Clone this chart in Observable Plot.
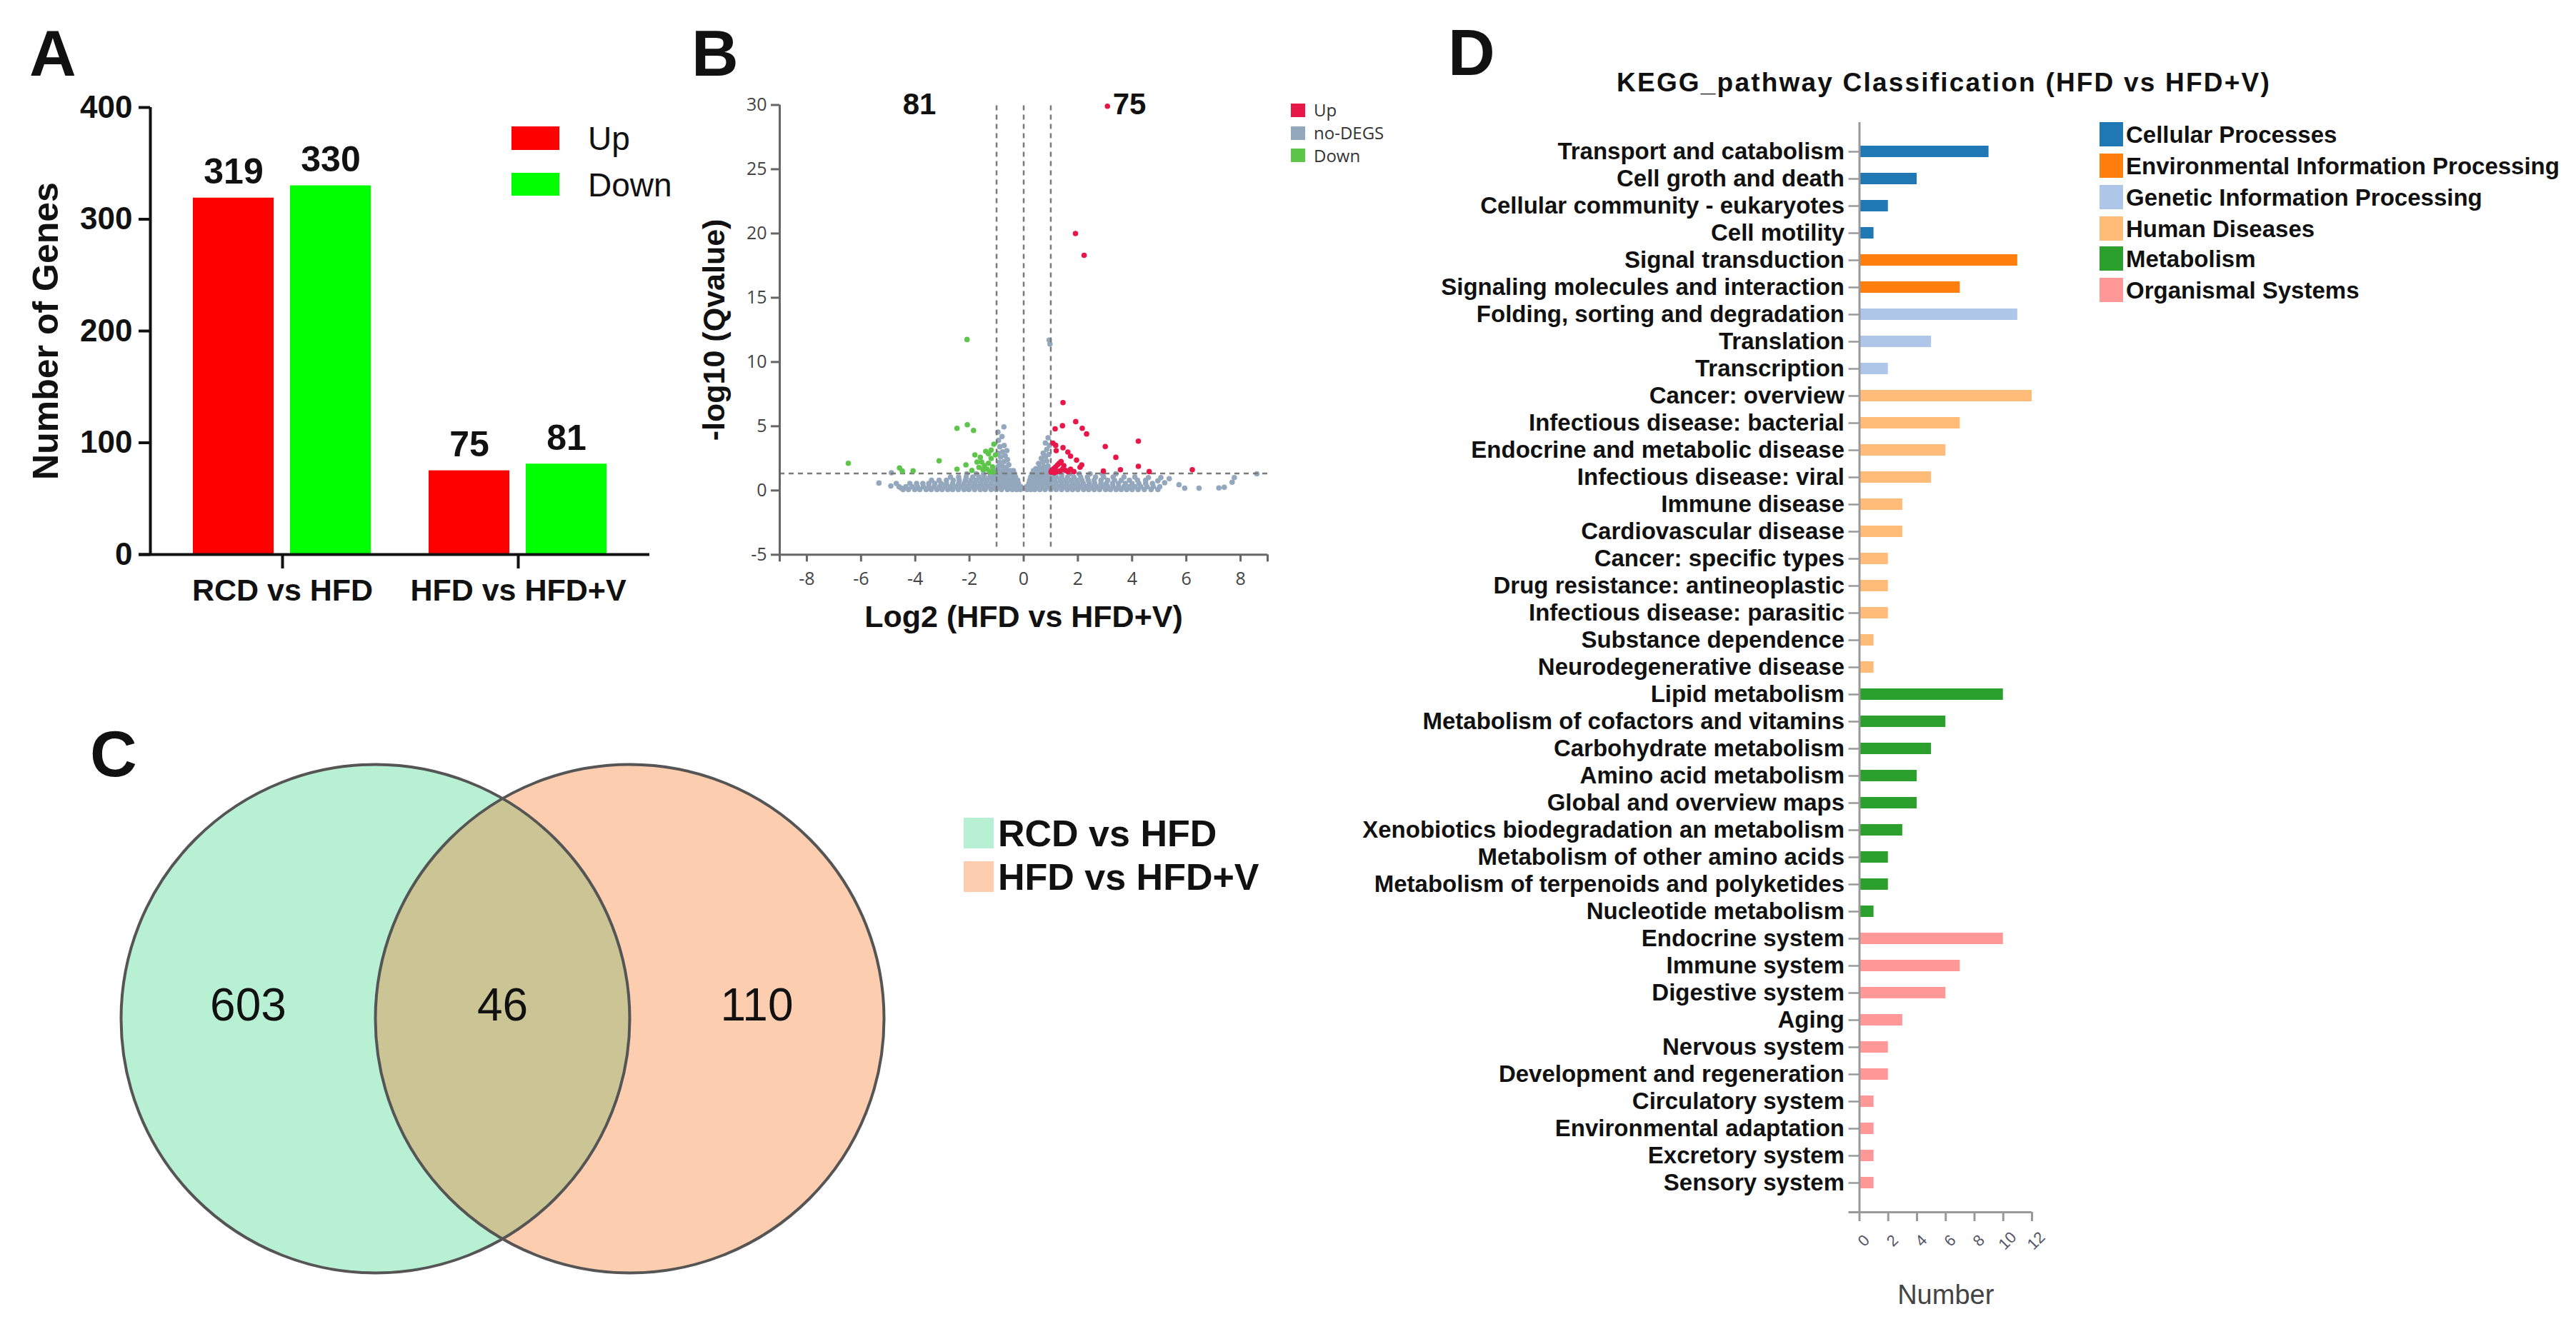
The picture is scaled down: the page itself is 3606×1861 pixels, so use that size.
<!DOCTYPE html>
<html><head><meta charset="utf-8">
<script src="https://cdn.jsdelivr.net/npm/d3@7"></script>
<script src="https://cdn.jsdelivr.net/npm/@observablehq/plot@0.6"></script>
<style>
html,body{margin:0;padding:0;background:#fff;}
#page{position:relative;width:3606px;height:1861px;overflow:hidden;background:#fff;font-family:"Liberation Sans",Arial,sans-serif;color:#111;}
</style></head><body><div id="page"></div>
<script>
// ---------- DATA ----------
// Panel A
const comparisons = ["RCD vs HFD", "HFD vs HFD+V"];
const directions = ["Up", "Down"];
const upCounts = [319, 75];
const downCounts = [330, 81];
const countTicks = [0, 100, 200, 300, 400];

// Panel B (volcano)
const degClasses = ["Up", "no-DEGS", "Down"];
const upPoints = [[3.09,29.9],[1.91,20.0],[2.23,18.3],[1.45,6.84],[1.92,5.36],[1.43,5.04],[1.16,4.8],[2.16,4.84],[2.32,4.4],[4.23,3.84],[1.08,3.69],[1.18,3.51],[1.45,3.33],[1.2,3.1],[1.63,2.99],[1.73,2.67],[3.01,3.42],[3.4,2.58],[1.95,2.36],[2.14,1.99],[2.08,1.81],[4.23,1.88],[3.57,1.62],[2.94,1.51],[4.63,1.47],[6.22,1.62],[1.38,2.25],[1.31,2.12],[1.25,1.99],[1.18,1.84],[1.11,1.69],[1.03,1.56],[1.01,1.43],[1.48,1.93],[1.43,1.66],[1.55,1.56],[1.33,1.51],[1.21,1.47],[1.13,1.38],[1.73,1.66],[1.85,1.47],[1.63,1.47]];
const downPoints = [[-2.09,11.75],[-6.47,2.12],[-3.12,2.31],[-2.46,4.84],[-2.08,5.12],[-1.85,4.67],[-1.1,3.6],[-4.58,1.75],[-4.48,1.51],[-4.08,1.53],[-2.46,1.66],[-2.13,1.99],[-1.91,1.56],[-1.8,2.77],[-1.6,2.58],[-1.4,3.05],[-1.3,2.86],[-1.55,2.21],[-1.45,1.93],[-1.3,2.12],[-1.2,2.49],[-1.15,1.84],[-1.35,1.66],[-1.5,1.62],[-1.25,1.47],[-1.12,1.43],[-1.65,1.8],[-1.72,2.21],[-1.2,3.14],[-1.04,2.77]];
const grayRowY = [0.08, 0.3, 0.55, 0.8, 1.05, 1.3, 1.55];
const grayRowX = [
  [-4.45,-4.25,-4.02,-3.83,-3.6,-3.41,-3.2,-3.01,-2.8,-2.62,-2.41,-2.2,-2.02,-1.81,-1.6,-1.42,-1.2,-1.01,-0.82,-0.6,-0.42,-0.26,-0.12,0.12,0.26,0.41,0.6,0.79,1.0,1.2,1.4,1.61,1.8,2.0,2.21,2.4,2.6,2.8,3.02,3.2,3.41,3.6,3.8,4.0,4.22,4.45,4.7,4.95],
  [-4.6,-4.35,-4.12,-3.92,-3.7,-3.5,-3.3,-3.1,-2.9,-2.7,-2.5,-2.3,-2.1,-1.9,-1.7,-1.5,-1.3,-1.1,-0.91,-0.72,-0.54,-0.38,-0.22,-0.1,0.1,0.2,0.34,0.5,0.68,0.88,1.1,1.3,1.5,1.7,1.9,2.1,2.3,2.5,2.7,2.9,3.1,3.3,3.5,3.7,3.9,4.1,4.32,4.55,4.78,5.02],
  [-4.2,-3.95,-3.72,-3.5,-3.28,-3.05,-2.85,-2.62,-2.4,-2.2,-2.0,-1.8,-1.6,-1.4,-1.2,-1.0,-0.82,-0.65,-0.48,-0.33,-0.19,0.19,0.33,0.48,0.65,0.82,1.0,1.2,1.4,1.6,1.8,2.0,2.2,2.42,2.62,2.85,3.05,3.28,3.5,3.75,4.0,4.25,4.5,4.75],
  [-3.4,-3.12,-2.85,-2.6,-2.38,-2.15,-1.95,-1.75,-1.55,-1.35,-1.15,-0.97,-0.8,-0.64,-0.48,-0.34,-0.22,0.22,0.36,0.5,0.66,0.82,0.98,1.15,1.35,1.55,1.75,1.95,2.15,2.38,2.6,2.85,3.1,3.35,3.6,3.9,4.2,4.5],
  [-2.7,-2.4,-2.12,-1.88,-1.65,-1.45,-1.25,-1.07,-0.9,-0.74,-0.58,-0.44,-0.3,0.26,0.4,0.55,0.7,0.86,1.02,1.2,1.4,1.62,1.85,2.1,2.35,2.65,2.95,3.3,3.7,4.1],
  [-2.1,-1.75,-1.48,-1.22,-1.05,-0.9,-0.75,-0.6,-0.46,-0.33,0.3,0.44,0.58,0.72,0.86,1.0,1.18,1.4,1.7,2.05,2.45,2.9,3.4],
  [-1.1,-0.93,-0.78,-0.63,-0.5,-0.38,0.36,0.5,0.64,0.78,0.92]
];
const grayExtra = [[-0.95,1.85],[-0.8,1.9],[-0.65,1.8],[-0.55,2.0],[-0.9,2.2],[-0.72,2.25],[-0.6,2.4],[-0.85,2.6],[-0.68,2.7],[-0.95,2.9],[-0.78,3.0],[-0.62,3.1],[-0.88,3.4],[-0.72,3.5],[-0.93,3.9],[-0.8,4.2],[-0.95,4.55],[-0.73,4.95],
  [0.6,1.8],[0.45,1.7],[0.75,1.85],[0.9,1.9],[0.55,2.1],[0.7,2.2],[0.85,2.3],[0.65,2.5],[0.8,2.6],[0.92,2.8],[0.72,2.9],[0.85,3.2],[0.95,3.5],[0.8,3.7],[0.9,4.1],[0.94,11.7],[0.97,11.4],
  [-5.34,0.58],[-4.88,1.38],[-4.9,0.35],[-4.7,0.55],[-4.53,0.2],
  [5.06,1.0],[5.37,0.92],[5.2,0.6],[5.73,0.45],[5.94,0.18],[6.47,0.18],[7.2,0.2],[7.4,0.25],[7.69,0.64],[7.77,1.0],[8.6,1.3],[4.95,0.75],[4.6,1.0]];
const qThreshold = 1.33;
const dashedX = [-1, 0, 1];
const volcanoXTicks = [-8, -6, -4, -2, 0, 2, 4, 6, 8];
const volcanoYTicks = [-5, 0, 5, 10, 15, 20, 25, 30];
const volcanoDown = 81, volcanoUp = 75;

// Panel C (Venn)
const vennSets = ["RCD vs HFD", "HFD vs HFD+V"];
const vennCounts = [603, 46, 110]; // only first, both, only second

// Panel D (KEGG)
const keggPathways = ["Transport and catabolism","Cell groth and death","Cellular community - eukaryotes","Cell motility",
  "Signal transduction","Signaling molecules and interaction",
  "Folding, sorting and degradation","Translation","Transcription",
  "Cancer: overview","Infectious disease: bacterial","Endocrine and metabolic disease","Infectious disease: viral","Immune disease","Cardiovascular disease","Cancer: specific types","Drug resistance: antineoplastic","Infectious disease: parasitic","Substance dependence","Neurodegenerative disease",
  "Lipid metabolism","Metabolism of cofactors and vitamins","Carbohydrate metabolism","Amino acid metabolism","Global and overview maps","Xenobiotics biodegradation an metabolism","Metabolism of other amino acids","Metabolism of terpenoids and polyketides","Nucleotide metabolism",
  "Endocrine system","Immune system","Digestive system","Aging","Nervous system","Development and regeneration","Circulatory system","Environmental adaptation","Excretory system","Sensory system"];
const keggCounts = [9,4,2,1, 11,7, 11,5,2, 12,7,6,5,3,3,2,2,2,1,1, 10,6,5,4,4,3,2,2,1, 10,7,6,3,2,2,1,1,1,1];
const keggGroups = ["Cellular Processes","Environmental Information Processing","Genetic Information Processing","Human Diseases","Metabolism","Organismal Systems"];
const keggGroupSizes = [4, 2, 3, 11, 9, 10];
const keggTicks = [0, 2, 4, 6, 8, 10, 12];

// ---------- HELPERS ----------
const page = document.getElementById("page");
const FONT = "Liberation Sans, Arial, sans-serif";
function place(node, left, top) {
  node.style.position = "absolute"; node.style.left = left + "px"; node.style.top = top + "px";
  page.appendChild(node); return node;
}
function label(text, left, baseline, fs, weight, extra) {
  const d = document.createElement("div");
  d.textContent = text;
  d.style.cssText = `position:absolute;left:${left}px;top:${baseline - 0.8465 * fs}px;font-size:${fs}px;font-weight:${weight};line-height:1;white-space:nowrap;color:#111;font-family:${FONT};${extra || ""}`;
  page.appendChild(d); return d;
}
function swatch(left, top, w, h, color) {
  const d = document.createElement("div");
  d.style.cssText = `position:absolute;left:${left}px;top:${top}px;width:${w}px;height:${h}px;background:${color};`;
  page.appendChild(d);
}
const baseStyle = {fontFamily: FONT, background: "transparent", overflow: "visible", color: "#111"};

// ---------- PANEL A ----------
const barRows = comparisons.flatMap((c, i) => [
  {comparison: c, direction: "Up", n: upCounts[i]},
  {comparison: c, direction: "Down", n: downCounts[i]}
]);
const aDims = {width: 960, height: 900, marginLeft: 210, marginRight: 51, marginTop: 150, marginBottom: 124};
const aBars = Plot.plot({
  ...aDims, style: baseStyle,
  fx: {domain: comparisons, paddingInner: 0.2, paddingOuter: 0.159, label: null},
  x: {domain: directions, paddingInner: 0.169, paddingOuter: 0.055, axis: null},
  y: {domain: [0, 400], axis: null},
  color: {domain: directions, range: ["#ff0000", "#00ff00"]},
  marks: [
    Plot.barY(barRows, {fx: "comparison", x: "direction", y: "n", fill: "direction"}),
    Plot.text(barRows, {fx: "comparison", x: "direction", y: "n", text: d => String(d.n), dy: -36, lineAnchor: "middle", fontSize: 50, fontWeight: "bold", fill: "#111"}),
    Plot.axisFx({anchor: "bottom", tickSize: 20, tickPadding: 14, fontSize: 43, fontWeight: "bold", strokeWidth: 4, stroke: "#111", fill: "#111", label: null})
  ]
});
place(aBars, 0, 0);
const aAxes = Plot.plot({
  ...aDims, style: baseStyle,
  x: {domain: [0, 1], axis: null},
  y: {domain: [0, 400], axis: null},
  marks: [
    Plot.ruleX([0], {y1: 0, y2: 400, stroke: "#111", strokeWidth: 4}),
    Plot.ruleY([0], {x1: 0, x2: 1, insetLeft: -16, stroke: "#111", strokeWidth: 4}),
    Plot.axisY({ticks: countTicks, tickSize: 16, tickPadding: 9, fontSize: 44, fontWeight: "bold", strokeWidth: 4, stroke: "#111", fill: "#111", label: null}),
    Plot.text(["Number of Genes"], {text: d => d, frameAnchor: "left", textAnchor: "middle", lineAnchor: "middle", dx: -146, rotate: -90, fontSize: 50, fontWeight: "bold", fill: "#111"})
  ]
});
place(aAxes, 0, 0);
swatch(716, 177, 67, 33, "#ff0000");
swatch(716, 242, 67, 32, "#00ff00");
label("Up", 823, 209.5, 46, "normal");
label("Down", 823, 274.5, 46, "normal");

// ---------- PANEL B ----------
const grayPts = grayRowY.flatMap((y, i) => grayRowX[i].map(x => ({x, y, cls: "no-DEGS"})))
  .concat(grayExtra.map(([x, y]) => ({x, y, cls: "no-DEGS"})));
const upPts = upPoints.map(([x, y]) => ({x, y, cls: "Up"}));
const downPts = downPoints.map(([x, y]) => ({x, y, cls: "Down"}));
const bFont = "Open Sans, Liberation Sans, sans-serif";
const volcano = Plot.plot({
  width: 900, height: 950, marginLeft: 141, marginRight: 76, marginTop: 146.5, marginBottom: 173.7,
  style: baseStyle,
  x: {domain: [-9, 9], axis: null},
  y: {domain: [-5, 30], axis: null},
  color: {domain: degClasses, range: ["#e8174a", "#93a7bd", "#5ec54b"]},
  marks: [
    Plot.dot(grayPts, {x: "x", y: "y", fill: "cls", r: 3.8}),
    Plot.ruleY([qThreshold], {x1: -9, x2: 9.05, stroke: "#7a7a7a", strokeWidth: 2.5, strokeDasharray: "7,6"}),
    Plot.ruleX(dashedX, {y1: -4.4, y2: 30.2, stroke: "#7a7a7a", strokeWidth: 2.5, strokeDasharray: "7,6"}),
    Plot.dot(downPts, {x: "x", y: "y", fill: "cls", r: 3.8}),
    Plot.dot(upPts, {x: "x", y: "y", fill: "cls", r: 3.8}),
    Plot.ruleX([-9], {y1: -5, y2: 30, stroke: "#666", strokeWidth: 3}),
    Plot.ruleY([-5], {x1: -9, x2: 9, stroke: "#666", strokeWidth: 3}),
    Plot.axisY({ticks: volcanoYTicks, tickFormat: d => String(d), tickSize: 12, tickPadding: 6, fontSize: 25, fontFamily: bFont, fill: "#444", stroke: "#666", strokeWidth: 3, label: null}),
    Plot.axisX({ticks: volcanoXTicks, tickFormat: d => String(d), tickSize: 10, tickPadding: 14, fontSize: 25, fontFamily: bFont, fill: "#444", stroke: "#666", strokeWidth: 3, label: null}),
    Plot.axisX({ticks: [-9, 9], tickFormat: () => "", tickSize: 10, stroke: "#666", strokeWidth: 3, label: null}),
    Plot.text(["-log10 (Qvalue)"], {text: d => d, frameAnchor: "left", textAnchor: "middle", lineAnchor: "middle", dx: -91, rotate: -90, fontSize: 43, fontWeight: "bold", fill: "#111"}),
    Plot.text(["Log2 (HFD vs HFD+V)"], {text: d => d, frameAnchor: "bottom", textAnchor: "middle", lineAnchor: "middle", dy: 87, fontSize: 43, fontWeight: "bold", fill: "#111"}),
    Plot.text([String(volcanoDown)], {text: d => d, frameAnchor: "top", textAnchor: "middle", lineAnchor: "middle", dx: -146, fontSize: 42, fontWeight: "bold", fill: "#111"}),
    Plot.text([String(volcanoUp)], {text: d => d, frameAnchor: "top", textAnchor: "middle", lineAnchor: "middle", dx: 148, fontSize: 42, fontWeight: "bold", fill: "#111"})
  ]
});
place(volcano, 950, 0);
swatch(1807, 145, 20, 19, "#e8174a");
swatch(1807, 177, 20, 19, "#93a7bd");
swatch(1807, 208, 20, 19, "#5ec54b");
label("Up", 1839, 162.6, 24, "normal", "color:#333;font-family:Open Sans,sans-serif;");
label("no-DEGS", 1839, 194.6, 24, "normal", "color:#333;font-family:Open Sans,sans-serif;");
label("Down", 1839, 226, 24, "normal", "color:#333;font-family:Open Sans,sans-serif;");

// ---------- PANEL C ----------
const vennCircles = vennSets.map((s, i) => ({set: s, cx: i === 0 ? -0.5 : 0.5}));
const vennRegions = vennCounts.map((n, i) => ({n, pos: i - 1}));
const vennR = (1059 - 347) / 2;
const venn = Plot.plot({
  width: 1900, height: 911, margin: 0, style: baseStyle,
  x: {domain: [-1, 1], range: [347, 1059], axis: null},
  y: {domain: [-1, 1], range: [832, 120], axis: null},
  marks: [
    Plot.dot([vennCircles[0]], {x: "cx", y: () => 0, r: vennR, fill: "#b8f0d4"}),
    Plot.dot([vennCircles[1]], {x: "cx", y: () => 0, r: vennR, fill: "#fdcdb0"}),
    Plot.dot([vennCircles[0]], {x: "cx", y: () => 0, r: vennR, fill: "#cbc495"}),
    Plot.dot(vennCircles, {x: "cx", y: () => 0, r: vennR, fill: "none", stroke: "#555", strokeWidth: 4}),
    Plot.text(vennRegions, {x: "pos", y: () => 0.05, text: d => String(d.n), fontSize: 64, fill: "#111"})
  ]
});
(function clipOverlap() {
  const ns = "http://www.w3.org/2000/svg";
  const groups = venn.querySelectorAll('g[aria-label="dot"]');
  const ov = groups[2];
  if (!ov) return;
  const defs = document.createElementNS(ns, "defs");
  const cp = document.createElementNS(ns, "clipPath");
  cp.setAttribute("id", "vennclip");
  const c = document.createElementNS(ns, "circle");
  c.setAttribute("cx", venn.scale("x").apply(vennCircles[1].cx));
  c.setAttribute("cy", venn.scale("y").apply(0));
  c.setAttribute("r", vennR);
  cp.appendChild(c);
  defs.appendChild(cp);
  venn.insertBefore(defs, venn.firstChild);
  ov.setAttribute("clip-path", "url(#vennclip)");
})();
place(venn, 0, 950);
swatch(1349, 1145, 42, 43, "#b8f0d4");
swatch(1349, 1206, 42, 43, "#fdcdb0");
label(vennSets[0], 1397, 1185, 52, "bold");
label(vennSets[1], 1397, 1246, 52, "bold");

// ---------- PANEL D ----------
const groupOf = keggGroupSizes.flatMap((n, g) => Array(n).fill(keggGroups[g]));
const keggRows = keggPathways.map((p, i) => ({pathway: p, count: keggCounts[i], group: groupOf[i]}));
const keggColors = ["#1f77b4", "#ff7f0e", "#aec7e8", "#ffbb78", "#2ca02c", "#ff9896"];
const dDims = {width: 1756, height: 1711, marginLeft: 752.5, marginRight: 762, marginTop: 21, marginBottom: 164};
const kegg = Plot.plot({
  ...dDims, style: baseStyle,
  x: {domain: [0, 12], axis: null},
  y: {domain: keggPathways, paddingInner: 0.584, paddingOuter: 0.612, axis: null},
  color: {domain: keggGroups, range: keggColors},
  marks: [
    Plot.barX(keggRows, {y: "pathway", x: "count", fill: "group"}),
    Plot.axisY({tickSize: 15, tickPadding: 6, fontSize: 33, fontWeight: "bold", fill: "#111", stroke: "#999", strokeWidth: 2.5, label: null}),
    Plot.ruleX([0], {stroke: "#999", strokeWidth: 3})
  ]
});
place(kegg, 1850, 150);
const keggAxes = Plot.plot({
  ...dDims, style: baseStyle,
  x: {domain: [0, 12], axis: null},
  y: {domain: [0, 1], axis: null},
  marks: [
    Plot.ruleY([0], {insetLeft: -15, stroke: "#999", strokeWidth: 3}),
    Plot.axisX({ticks: keggTicks, tickFormat: () => "", tickSize: 13, stroke: "#999", strokeWidth: 3, label: null}),
    Plot.text(keggTicks, {x: d => d, text: d => String(d), frameAnchor: "bottom", textAnchor: "middle", lineAnchor: "middle", dy: 40, dx: 6, rotate: -45, fontSize: 22, fill: "#556"}),
    Plot.text(["Number"], {text: d => d, frameAnchor: "bottom", textAnchor: "middle", lineAnchor: "middle", dy: 116, fontSize: 38, fill: "#444"})
  ]
});
place(keggAxes, 1850, 150);
label("KEGG_pathway Classification (HFD vs HFD+V)", 2721, 128, 37, "bold", "transform:translateX(-50%);letter-spacing:2.2px;");
const legTops = [171, 215, 259, 303, 345, 389];
keggGroups.forEach((g, i) => {
  swatch(2939, legTops[i], 33, 34, keggColors[i]);
  label(g, 2976, legTops[i] + 17 + 11.8, 33, "bold");
});

// ---------- PANEL LETTERS ----------
label("A", 41, 106, 91, "bold");
label("B", 968, 106, 91, "bold");
label("C", 126, 1087, 91, "bold");
label("D", 2027, 105, 91, "bold");
</script>
</body></html>
